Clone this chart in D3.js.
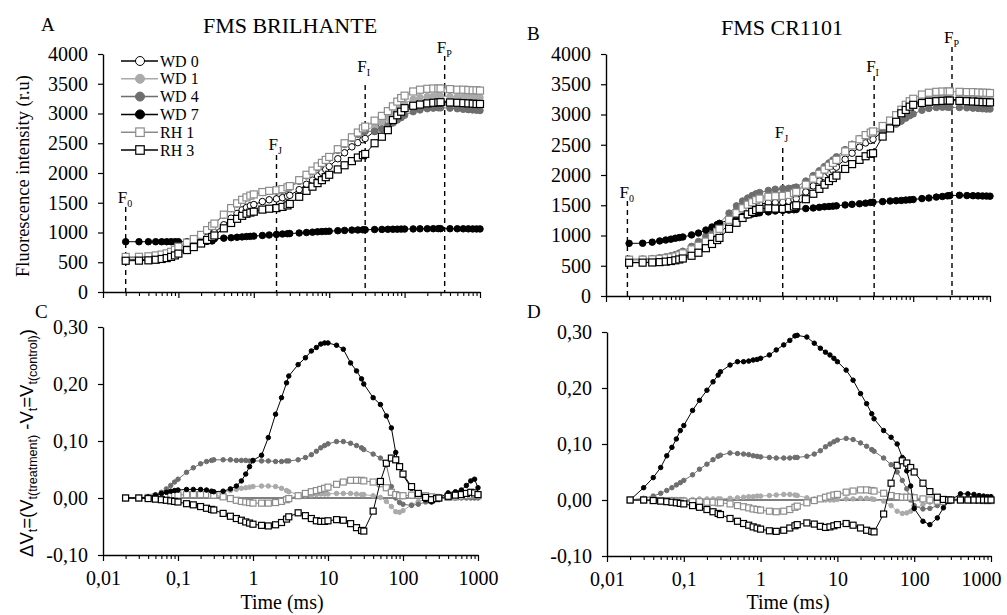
<!DOCTYPE html>
<html lang="en">
<head>
<meta charset="UTF-8">
<title>OJIP transients</title>
<style>
  body { margin: 0; background: #fff; }
  text { font-family: "Liberation Serif", "Times New Roman", serif; fill: #000; }
</style>
</head>
<body>
<svg id="chart" width="1007" height="615"></svg>
<script src="https://cdn.jsdelivr.net/npm/d3@7"></script>
<script>
// time points (ms) shared by all series
const times = [0.02,0.03,0.04,0.05,0.06,0.07,0.08,0.09,0.1,
  0.13,0.16,0.2,0.24,0.28,
  0.3,0.4,0.5,0.6,0.7,0.8,0.9,1,
  1.3,1.6,2,2.4,2.8,
  3,4,5,6,7,8,9,10,
  13,16,20,24,28,
  30,40,50,60,70,80,90,100,
  130,160,200,240,280,
  300,400,500,600,700,800,900,1000];

const seriesNames = ["WD 0","WD 1","WD 4","WD 7","RH 1","RH 3"];
const titles = ["FMS BRILHANTE","FMS CR1101"];
const panelLetters = ["A","B","C","D"];

const xMajor = [0.01,0.1,1,10,100,1000];
const xTickLabels = ["0,01","0,1","1","10","100","1000"];
const topYTicks = [0,500,1000,1500,2000,2500,3000,3500,4000];
const bottomYTicks = [-0.1,0,0.1,0.2,0.3];
const bottomYLabels = ["-0,10","0,00","0,10","0,20","0,30"];

const fNames = ["0","J","I","P"];
const fTimesA = [0.02,2,30,340];
const fTimesB = [0.019,2,31,320];

// ---- A: FMS BRILHANTE, fluorescence (r.u)
const aWD0 = [540,542,548,560,574,590,610,635,668,
  735,790,855,920,975,
  1000,1130,1240,1320,1380,1420,1450,1470,
  1520,1550,1565,1585,1610,
  1625,1720,1810,1880,1950,2010,2060,2110,
  2240,2340,2440,2510,2560,
  2580,2700,2800,2880,2950,3010,3060,3100,
  3160,3190,3205,3210,3210,
  3210,3200,3195,3190,3190,3185,3185,3180];
const aWD1 = [582,584,592,607,625,646,672,706,752,
  825,885,955,1035,1105,
  1145,1295,1405,1485,1545,1588,1618,1638,
  1678,1695,1702,1720,1750,
  1770,1870,1960,2030,2100,2160,2210,2260,
  2390,2490,2590,2660,2700,
  2720,2780,2850,2920,2990,3060,3120,3170,
  3240,3270,3285,3290,3290,
  3290,3285,3280,3280,3275,3275,3270,3270];
const aWD4 = [575,577,585,600,618,640,665,700,745,
  820,880,950,1030,1100,
  1140,1290,1400,1480,1540,1585,1615,1635,
  1675,1690,1695,1710,1740,
  1760,1860,1950,2020,2090,2150,2200,2250,
  2380,2480,2580,2650,2690,
  2700,2700,2740,2790,2840,2890,2930,2970,
  3030,3060,3080,3090,3095,
  3095,3090,3080,3070,3065,3060,3055,3050];
const aWD7 = [845,845,845,845,845,845,845,845,846,
  846,847,848,850,858,
  895,905,912,920,926,931,935,940,
  950,958,968,975,980,
  982,992,1000,1006,1012,1016,1019,1022,
  1030,1035,1040,1043,1045,
  1046,1050,1052,1054,1055,1056,1057,1058,
  1060,1062,1063,1064,1065,
  1065,1064,1063,1062,1061,1060,1060,1060];
const aRH1 = [590,592,600,615,630,650,675,710,760,
  830,890,960,1040,1110,
  1150,1300,1410,1490,1550,1590,1620,1640,
  1680,1700,1710,1730,1760,
  1780,1880,1970,2040,2110,2170,2220,2270,
  2400,2500,2600,2680,2750,
  2780,2880,2960,3040,3120,3200,3260,3300,
  3370,3400,3415,3420,3420,
  3420,3410,3400,3400,3395,3390,3390,3385];
const aRH3 = [525,527,532,542,555,570,590,615,645,
  705,755,815,875,925,
  950,1070,1160,1230,1280,1315,1335,1350,
  1385,1400,1410,1430,1455,
  1480,1600,1700,1770,1830,1880,1930,1970,
  2060,2130,2200,2260,2300,
  2320,2500,2610,2720,2890,2970,3030,3090,
  3130,3150,3170,3180,3185,
  3190,3185,3180,3175,3170,3165,3160,3160];

// ---- B: FMS CR1101, fluorescence (r.u)
const bWD0 = [555,556,560,567,576,588,602,620,642,
  700,760,835,910,985,
  1030,1190,1300,1380,1430,1470,1500,1520,
  1540,1545,1550,1565,1590,
  1610,1720,1820,1900,1970,2030,2080,2130,
  2260,2360,2460,2530,2570,
  2590,2720,2830,2930,3020,3090,3140,3180,
  3220,3240,3250,3250,3250,
  3250,3245,3240,3240,3235,3235,3230,3230];
const bWD1 = [595,597,603,612,624,638,655,680,712,
  780,840,915,995,1075,
  1120,1280,1395,1475,1535,1575,1605,1625,
  1660,1675,1685,1700,1730,
  1745,1860,1960,2040,2110,2170,2220,2270,
  2400,2500,2600,2660,2690,
  2700,2770,2850,2930,3010,3090,3150,3190,
  3250,3270,3280,3285,3285,
  3285,3280,3275,3275,3270,3270,3265,3265];
const bWD4 = [610,612,620,632,647,665,685,710,740,
  820,900,990,1080,1160,
  1200,1370,1490,1570,1620,1660,1690,1710,
  1745,1765,1775,1780,1790,
  1800,1900,1990,2070,2140,2200,2250,2300,
  2420,2510,2600,2650,2680,
  2690,2740,2790,2840,2890,2940,2980,3010,
  3070,3100,3115,3120,3120,
  3120,3115,3110,3105,3100,3095,3090,3090];
const bWD7 = [870,872,890,910,925,940,955,965,975,
  1010,1040,1090,1140,1180,
  1200,1260,1300,1320,1340,1355,1365,1375,
  1390,1405,1415,1420,1425,
  1430,1445,1455,1465,1475,1480,1485,1490,
  1505,1515,1525,1535,1545,
  1550,1560,1570,1575,1580,1585,1590,1595,
  1610,1620,1635,1645,1655,
  1660,1665,1660,1658,1655,1653,1652,1650];
const bRH1 = [600,601,606,614,625,638,653,675,705,
  770,830,900,980,1060,
  1110,1260,1370,1450,1510,1550,1585,1610,
  1640,1650,1655,1670,1700,
  1720,1840,1940,2020,2090,2150,2200,2250,
  2390,2490,2590,2660,2700,
  2720,2810,2900,2990,3080,3160,3220,3260,
  3330,3360,3375,3380,3380,
  3380,3375,3370,3370,3365,3360,3360,3355];
const bRH3 = [550,551,554,560,568,578,590,604,620,
  665,715,790,860,925,
  960,1110,1210,1290,1350,1390,1420,1440,
  1450,1445,1440,1455,1480,
  1500,1600,1690,1770,1840,1900,1950,1990,
  2100,2180,2250,2310,2350,
  2360,2635,2770,2880,3020,3075,3130,3160,
  3190,3210,3220,3225,3230,
  3230,3225,3220,3215,3210,3205,3205,3200];

// ---- C: FMS BRILHANTE, delta Vt (control WD 0 = 0)
const controlTimes = [0.02,1000];
const controlDV = [0,0];
const cWD1 = [0,0,0.001,0.002,0.003,0.004,0.005,0.005,0.006,
  0.007,0.008,0.008,0.008,0.008,
  0.008,0.01,0.013,0.015,0.017,0.018,0.019,0.02,
  0.021,0.021,0.02,0.017,0.013,
  0.011,0.006,0.005,0.005,0.006,0.007,0.007,0.007,
  0.008,0.008,0.008,0.007,0.006,
  0.006,0.004,0.001,-0.006,-0.015,-0.024,-0.025,-0.022,
  -0.012,-0.006,-0.003,-0.002,-0.001,
  0,0,0,0.001,0.001,0.001,0.001,0.001];
const cWD4 = [0,0,0.002,0.006,0.01,0.016,0.022,0.028,0.033,
  0.045,0.053,0.06,0.064,0.066,
  0.067,0.067,0.067,0.066,0.066,0.066,0.065,0.065,
  0.065,0.065,0.064,0.064,0.065,
  0.065,0.067,0.071,0.076,0.082,0.088,0.092,0.095,
  0.099,0.099,0.096,0.092,0.088,
  0.085,0.077,0.07,0.058,0.02,0,-0.008,-0.011,
  -0.013,-0.011,-0.007,-0.004,-0.002,
  -0.001,0,0,0,0,0,0,0];
const cWD7 = [0,0,0.002,0.005,0.008,0.01,0.012,0.013,0.014,
  0.015,0.015,0.015,0.014,0.012,
  0.011,0.012,0.016,0.021,0.03,0.042,0.055,0.066,
  0.075,0.106,0.147,0.176,0.202,
  0.214,0.234,0.246,0.258,0.264,0.27,0.272,0.272,
  0.268,0.261,0.237,0.223,0.209,
  0.2,0.176,0.164,0.144,0.123,0.08,0.055,0.04,
  0.017,0.009,-0.003,-0.007,-0.002,
  0,0.009,0.011,0.014,0.022,0.03,0.033,0.018];
const cRH1 = [0,0,0.001,0.002,0.003,0.004,0.004,0.005,0.005,
  0.006,0.006,0.006,0.006,0.005,
  0.005,0.002,-0.001,-0.004,-0.006,-0.007,-0.008,-0.009,
  -0.009,-0.009,-0.008,-0.006,-0.003,
  -0.001,0.004,0.008,0.011,0.013,0.015,0.017,0.019,
  0.024,0.028,0.031,0.031,0.031,
  0.03,0.028,0.025,0.018,0.01,0.006,0.004,0.004,
  0.005,0.005,0.004,0.002,0.001,
  0,0.001,0.002,0.003,0.004,0.005,0.006,0.004];
const cRH3 = [0,0,-0.001,-0.002,-0.003,-0.004,-0.005,-0.006,-0.007,
  -0.01,-0.012,-0.015,-0.018,-0.02,
  -0.021,-0.027,-0.032,-0.036,-0.039,-0.042,-0.044,-0.046,
  -0.048,-0.049,-0.047,-0.043,-0.037,
  -0.033,-0.026,-0.031,-0.036,-0.04,-0.041,-0.041,-0.04,
  -0.038,-0.039,-0.045,-0.052,-0.057,
  -0.058,-0.023,0.029,0.061,0.07,0.067,0.055,0.042,
  0.02,0.008,0.001,-0.003,-0.001,
  0,0.003,0.005,0.006,0.008,0.01,0.009,0.006];

// ---- D: FMS CR1101, delta Vt
const dWD1 = [0,0,0,0,0,0.001,0.001,0.001,0.001,
  0.001,0.002,0.002,0.002,0.002,
  0.002,0.003,0.004,0.005,0.006,0.006,0.007,0.007,
  0.008,0.009,0.01,0.01,0.009,
  0.008,0.004,0.002,0.001,0,0,0,0.001,
  0.002,0.002,0.003,0.003,0.002,
  0.001,-0.002,-0.01,-0.02,-0.024,-0.023,-0.02,-0.016,
  -0.008,-0.004,-0.002,-0.001,0,
  0,0,0,0,0,0,0,0];
const dWD4 = [0,0.003,0.007,0.012,0.017,0.022,0.027,0.031,0.035,
  0.045,0.055,0.064,0.072,0.078,
  0.08,0.084,0.083,0.082,0.081,0.079,0.078,0.077,
  0.076,0.075,0.075,0.075,0.076,
  0.076,0.078,0.082,0.088,0.095,0.1,0.104,0.107,
  0.11,0.108,0.102,0.096,0.09,
  0.087,0.075,0.063,0.05,0.035,0.02,0,-0.01,
  -0.016,-0.015,-0.01,-0.004,-0.001,
  0,0.003,0.003,0.003,0.002,0.002,0.002,0.002];
const dWD7 = [0,0.022,0.04,0.058,0.079,0.094,0.109,0.124,0.133,
  0.16,0.178,0.196,0.211,0.223,
  0.229,0.241,0.247,0.247,0.248,0.25,0.251,0.253,
  0.259,0.268,0.277,0.285,0.293,
  0.294,0.291,0.28,0.271,0.264,0.259,0.253,0.247,
  0.232,0.214,0.19,0.172,0.154,
  0.145,0.124,0.112,0.1,0.076,0.052,0.025,-0.015,
  -0.038,-0.044,-0.032,-0.014,-0.002,
  0,0.011,0.011,0.01,0.008,0.007,0.006,0.006];
const dRH1 = [0,0,0,-0.001,-0.001,-0.001,-0.002,-0.002,-0.002,
  -0.003,-0.003,-0.004,-0.004,-0.005,
  -0.005,-0.007,-0.01,-0.012,-0.014,-0.016,-0.017,-0.018,
  -0.02,-0.021,-0.02,-0.017,-0.013,
  -0.011,-0.005,-0.001,0.002,0.005,0.007,0.009,0.01,
  0.014,0.016,0.018,0.018,0.017,
  0.016,0.012,0.008,0.006,0.005,0.005,0.005,0.004,
  0.002,0,-0.002,-0.003,-0.001,
  0,0,0,0,0,-0.001,-0.001,-0.001];
const dRH3 = [0,0,-0.001,-0.002,-0.003,-0.004,-0.005,-0.006,-0.007,
  -0.01,-0.013,-0.017,-0.021,-0.024,
  -0.026,-0.033,-0.038,-0.042,-0.045,-0.048,-0.05,-0.052,
  -0.055,-0.056,-0.054,-0.05,-0.046,
  -0.044,-0.041,-0.043,-0.047,-0.049,-0.048,-0.046,-0.044,
  -0.042,-0.045,-0.05,-0.054,-0.056,
  -0.057,-0.025,0.03,0.062,0.07,0.066,0.058,0.05,
  0.03,0.015,0.005,0.001,0,
  0,0,0,0,0,0,0,0];

// ---- styles
const serif = "'Liberation Serif', 'Times New Roman', serif";
const sans = "'Liberation Sans', Arial, sans-serif";
const styles = {
  "WD 0": {line: "#000", fill: "#fff", stroke: "#000", shape: "circle"},
  "WD 1": {line: "#aaa", fill: "#aaa", stroke: "#aaa", shape: "circle"},
  "WD 4": {line: "#6e6e6e", fill: "#6e6e6e", stroke: "#6e6e6e", shape: "circle"},
  "WD 7": {line: "#000", fill: "#000", stroke: "#000", shape: "circle"},
  "RH 1": {line: "#8c8c8c", fill: "#fff", stroke: "#8c8c8c", shape: "square"},
  "RH 3": {line: "#000", fill: "#fff", stroke: "#000", shape: "square"}
};

const svg = d3.select("#chart");

function marker(sel, st, cx, cy, size) {
  if (st.shape === "circle") {
    sel.append("circle").attr("cx", cx).attr("cy", cy).attr("r", size / 2)
      .attr("fill", st.fill).attr("stroke", st.stroke).attr("stroke-width", 1);
  } else {
    sel.append("rect").attr("x", cx - size / 2).attr("y", cy - size / 2)
      .attr("width", size).attr("height", size)
      .attr("fill", st.fill).attr("stroke", st.stroke).attr("stroke-width", 1.2);
  }
}

function drawPanel(p) {
  const x = d3.scaleLog().domain([0.01, 1000]).range([p.left, p.right]);
  const y = d3.scaleLinear().domain(p.yDomain).range([p.bottom, p.top]);
  const g = svg.append("g");

  // x axis: minor ticks then major ticks
  const minor = x.ticks().filter(t => Math.abs(Math.log10(t) - Math.round(Math.log10(t))) > 1e-6);
  g.append("g").attr("transform", `translate(0,${p.bottom})`)
    .call(d3.axisBottom(x).tickValues(minor).tickSize(4).tickFormat(""))
    .call(a => a.select(".domain").remove())
    .call(a => a.selectAll("line").attr("stroke-width", 1.1));
  const xa = g.append("g").attr("transform", `translate(0,${p.bottom})`)
    .call(d3.axisBottom(x).tickValues(xMajor).tickSize(6).tickSizeOuter(0).tickPadding(10)
      .tickFormat(p.xLabels ? (d, i) => xTickLabels[i] : ""));
  xa.select(".domain").attr("stroke-width", 1.4);
  xa.selectAll("line").attr("stroke-width", 1.2);
  xa.selectAll("text").attr("font-size", 20).style("font-family", serif);
  if (p.lastLabelDx) {
    xa.selectAll("text").filter((d, i) => i === xMajor.length - 1).attr("dx", p.lastLabelDx);
  }

  const ya = g.append("g").attr("transform", `translate(${p.left},0)`)
    .call(d3.axisLeft(y).tickValues(p.yTicks).tickSize(5).tickSizeOuter(0).tickPadding(10)
      .tickFormat((d, i) => p.yLabels[i]));
  ya.select(".domain").attr("stroke-width", 1.4);
  ya.selectAll("line").attr("stroke-width", 1.2);
  ya.selectAll("text").attr("font-size", 20).style("font-family", serif);

  // phase marker lines
  if (p.fTimes) {
    p.fTimes.forEach((t, i) => {
      g.append("line").attr("x1", x(t)).attr("x2", x(t))
        .attr("y1", p.fLineTop[i]).attr("y2", p.bottom)
        .attr("stroke", "#000").attr("stroke-width", 1.4).attr("stroke-dasharray", "5,4");
      const tx = g.append("text").attr("x", x(t) - 8).attr("y", p.fLabelY[i])
        .attr("font-size", 17).style("font-family", serif);
      tx.append("tspan").text("F");
      tx.append("tspan").attr("font-size", 10).attr("dy", 4).text(fNames[i]);
    });
  }

  if (p.control) {
    g.append("path").datum(controlDV)
      .attr("d", d3.line().x((d, i) => x(controlTimes[i])).y(d => y(d)))
      .attr("fill", "none").attr("stroke", "#000").attr("stroke-width", 1);
  }

  const line = d3.line().x((d, i) => x(times[i])).y(d => y(d));
  p.series.forEach(s => {
    const st = styles[s.name];
    const sg = g.append("g");
    sg.append("path").datum(s.values).attr("d", line)
      .attr("fill", "none").attr("stroke", st.line).attr("stroke-width", 1);
    s.values.forEach((v, i) => marker(sg, st, x(times[i]), y(v), p.markerSize[st.shape]));
  });
}

const topSizes = {circle: 6.5, square: 7};
const bottomSizes = {circle: 4.5, square: 6};

drawPanel({left: 103, right: 480, top: 54, bottom: 292, yDomain: [0, 4000],
  yTicks: topYTicks, yLabels: topYTicks.map(String), xLabels: false,
  fTimes: fTimesA, fLabelY: [203, 150, 72, 53], fLineTop: [207, 155, 85, 56],
  markerSize: topSizes,
  series: [{name: "WD 0", values: aWD0}, {name: "WD 1", values: aWD1}, {name: "WD 4", values: aWD4},
           {name: "WD 7", values: aWD7}, {name: "RH 1", values: aRH1}, {name: "RH 3", values: aRH3}]});

drawPanel({left: 606, right: 990, top: 54, bottom: 296, yDomain: [0, 4000],
  yTicks: topYTicks, yLabels: topYTicks.map(String), xLabels: false,
  fTimes: fTimesB, fLabelY: [198, 138, 72, 43], fLineTop: [201, 148, 76, 47],
  markerSize: topSizes,
  series: [{name: "WD 0", values: bWD0}, {name: "WD 1", values: bWD1}, {name: "WD 4", values: bWD4},
           {name: "WD 7", values: bWD7}, {name: "RH 1", values: bRH1}, {name: "RH 3", values: bRH3}]});

drawPanel({left: 103, right: 478, top: 327, bottom: 555, yDomain: [-0.1, 0.3],
  yTicks: bottomYTicks, yLabels: bottomYLabels, xLabels: true, control: true,
  markerSize: bottomSizes,
  series: [{name: "WD 1", values: cWD1}, {name: "WD 4", values: cWD4}, {name: "RH 1", values: cRH1},
           {name: "WD 7", values: cWD7}, {name: "RH 3", values: cRH3}]});

drawPanel({left: 607, right: 991, top: 332, bottom: 556, yDomain: [-0.1, 0.3],
  yTicks: bottomYTicks, yLabels: bottomYLabels, xLabels: true, control: true,
  markerSize: bottomSizes, lastLabelDx: -10,
  series: [{name: "WD 1", values: dWD1}, {name: "WD 4", values: dWD4}, {name: "RH 1", values: dRH1},
           {name: "WD 7", values: dWD7}, {name: "RH 3", values: dRH3}]});

// titles and panel letters
svg.append("text").attr("x", 290).attr("y", 33).attr("text-anchor", "middle")
  .attr("font-size", 22).style("font-family", serif).text(titles[0]);
svg.append("text").attr("x", 782).attr("y", 35).attr("text-anchor", "middle")
  .attr("font-size", 22).style("font-family", serif).text(titles[1]);
[[41, 31], [527, 40], [35, 318], [527, 318]].forEach((pos, i) => {
  svg.append("text").attr("x", pos[0]).attr("y", pos[1]).attr("font-size", 19)
    .style("font-family", serif).text(panelLetters[i]);
});

// axis titles
svg.append("text").attr("transform", "translate(29,176) rotate(-90)")
  .attr("text-anchor", "middle").attr("font-size", 18.5).style("font-family", serif)
  .text("Fluorescence intensity (r.u)");

const dv = svg.append("text").attr("transform", "translate(33,443) rotate(-90)")
  .attr("text-anchor", "middle").attr("font-size", 18.5).style("font-family", sans);
[["ΔV", 0], ["t", 1], ["=(V", 0], ["t(treatment)", 1], [" -V", 0], ["t", 1], ["=V", 0], ["t(control)", 1], [")", 0]]
  .forEach(([s, sub], i, arr) => {
    const prevSub = i > 0 ? arr[i - 1][1] : 0;
    const ts = dv.append("tspan").text(s);
    if (sub) ts.attr("font-size", 12.5).attr("dy", 4);
    else if (prevSub) ts.attr("dy", -4);
  });

svg.append("text").attr("x", 282).attr("y", 609).attr("text-anchor", "middle")
  .attr("font-size", 20).style("font-family", serif).text("Time (ms)");
svg.append("text").attr("x", 788).attr("y", 609).attr("text-anchor", "middle")
  .attr("font-size", 20).style("font-family", serif).text("Time (ms)");

// legend (panel A)
const leg = svg.append("g");
seriesNames.forEach((name, i) => {
  const st = styles[name];
  const cy = 61 + i * 17.8;
  leg.append("line").attr("x1", 121).attr("x2", 158).attr("y1", cy).attr("y2", cy)
    .attr("stroke", st.line).attr("stroke-width", 1.5);
  marker(leg, st, 140, cy, st.shape === "circle" ? 9 : 8.5);
  leg.append("text").attr("x", 160).attr("y", cy + 5.5).attr("font-size", 16)
    .style("font-family", serif).text(name);
});
</script>
</body>
</html>
